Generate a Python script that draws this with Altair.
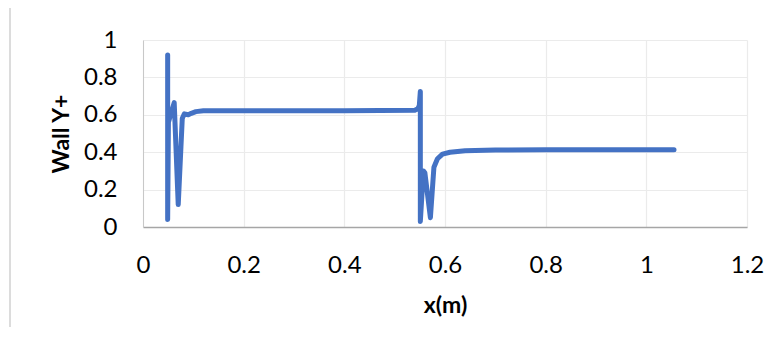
import altair as alt
import pandas as pd

x_vals = [0.049, 0.049, 0.0505, 0.062, 0.070, 0.078, 0.082, 0.090, 0.096, 0.105, 0.120,
          0.20, 0.40, 0.540, 0.546, 0.549, 0.551, 0.551, 0.557, 0.560, 0.571, 0.578,
          0.585, 0.595, 0.610, 0.640, 0.700, 0.80, 1.055]
y_vals = [0.92, 0.04, 0.56, 0.665, 0.12, 0.58, 0.605, 0.600, 0.608, 0.617, 0.622,
          0.622, 0.622, 0.624, 0.632, 0.650, 0.725, 0.03, 0.30, 0.29, 0.05, 0.32,
          0.365, 0.39, 0.400, 0.408, 0.412, 0.413, 0.413]

df = pd.DataFrame({"x": x_vals, "y": y_vals, "i": list(range(len(x_vals)))})

FONT = "Lato"

line = alt.Chart(df).mark_line(color="#4472C4", strokeWidth=5, strokeCap="round",
                               strokeJoin="round").encode(
    x=alt.X("x:Q", scale=alt.Scale(domain=[0, 1.2], nice=False),
            axis=alt.Axis(values=[0, 0.2, 0.4, 0.6, 0.8, 1.0, 1.2], title="x(m)",
                          labelExpr="datum.value == 0 ? '0' : format(datum.value, '.1~f')",
                          ticks=False, labelFlush=False, labelPadding=26, titlePadding=17,
                          domainColor="#A6A6A6", domainWidth=1.5,
                          gridColor="#EBEBEB", gridWidth=1.2)),
    y=alt.Y("y:Q", scale=alt.Scale(domain=[0, 1], nice=False),
            axis=alt.Axis(values=[0, 0.2, 0.4, 0.6, 0.8, 1.0], title="Wall Y+",
                          labelExpr="datum.value == 0 ? '0' : format(datum.value, '.1~f')",
                          ticks=False, labelFlush=False, labelPadding=26,
                          titleX=-82, titleY=93.5, titleBaseline="middle", titleAlign="center",
                          domainColor="#C8C8C8", domainWidth=1,
                          gridColor="#EBEBEB", gridWidth=1.2)),
    order="i:Q",
)

border = alt.Chart(pd.DataFrame({"a": [0]})).mark_rule(color="#D0D0D0", strokeWidth=1.5).encode(
    x=alt.value(-133), y=alt.value(-40), y2=alt.value(330)
)

chart = alt.layer(border, line).properties(
    width=604, height=187,
    autosize=alt.AutoSizeParams(type="none"),
    padding={"left": 135, "top": 32, "right": 27, "bottom": 100},
).configure_axis(
    labelFont=FONT, labelFontSize=24, labelColor="#000000",
    titleFont=FONT, titleFontSize=23, titleFontWeight="bold", titleColor="#000000",
).configure_view(stroke=None)

chart.save("out.html", embed_options={"renderer": "svg", "actions": False})
